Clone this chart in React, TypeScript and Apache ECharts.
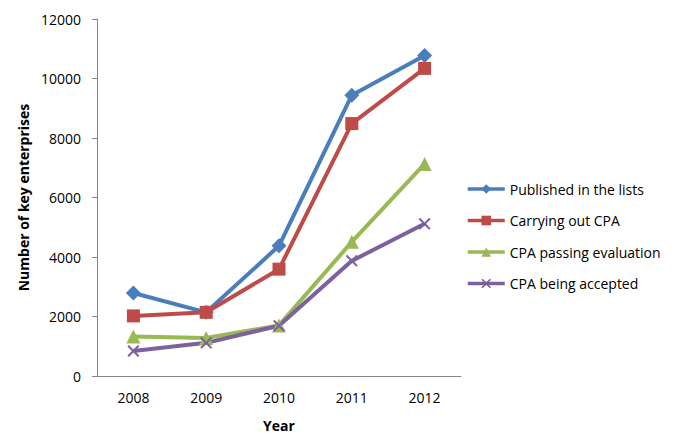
import React, { useEffect, useRef } from "react";
import * as echarts from "echarts";

const years = ["2008", "2009", "2010", "2011", "2012"];
const published = [2790, 2140, 4375, 9440, 10770];
const carrying = [2020, 2140, 3590, 8485, 10340];
const passing = [1330, 1280, 1700, 4510, 7130];
const accepted = [840, 1115, 1690, 3870, 5115];
const seriesNames = [
  "Published in the lists",
  "Carrying out CPA",
  "CPA passing evaluation",
  "CPA being accepted",
];
const yTicks = { min: 0, max: 12000, interval: 2000 };

const FONT = "'Open Sans', sans-serif";
const X_SYMBOL =
  "path://M0,1.2 L1.2,0 L5,3.8 L8.8,0 L10,1.2 L6.2,5 L10,8.8 L8.8,10 L5,6.2 L1.2,10 L0,8.8 L3.8,5 Z";

export default function App() {
  const ref = useRef<HTMLDivElement>(null);
  useEffect(() => {
    if (!ref.current) return;
    const chart = echarts.init(ref.current, null, { renderer: "svg" });
    const mk = (
      name: string,
      data: number[],
      color: string,
      symbol: string,
      size: number
    ) => ({
      name,
      type: "line",
      data,
      symbol,
      symbolSize: size,
      showAllSymbol: true,
      lineStyle: { color, width: 4 },
      itemStyle: { color },
      emphasis: { disabled: true },
    });
    chart.setOption({
      animation: false,
      backgroundColor: "#ffffff",
      grid: { left: 97, right: 219, top: 19, bottom: 55.5 },
      legend: {
        orient: "vertical",
        left: 461,
        top: 177,
        itemWidth: 37,
        itemHeight: 12,
        itemGap: 17.5,
        lineStyle: { width: 3.5 },
        textStyle: { fontFamily: FONT, fontSize: 14, color: "#000" },
        data: seriesNames,
      },
      xAxis: {
        type: "category",
        data: years,
        boundaryGap: true,
        name: "Year",
        nameLocation: "middle",
        nameGap: 42,
        nameTextStyle: { fontFamily: FONT, fontSize: 14, fontWeight: "bold", color: "#000" },
        axisLine: { lineStyle: { color: "#868686", width: 1 } },
        axisTick: { show: false },
        axisLabel: { fontFamily: FONT, fontSize: 14, color: "#000", margin: 14 },
      },
      yAxis: {
        type: "value",
        min: yTicks.min,
        max: yTicks.max,
        interval: yTicks.interval,
        name: "Number of key enterprises",
        nameLocation: "middle",
        nameGap: 64,
        nameTextStyle: { fontFamily: FONT, fontSize: 14, fontWeight: "bold", color: "#000" },
        axisLine: { show: true, lineStyle: { color: "#868686", width: 1 } },
        axisTick: { show: true, length: 5, lineStyle: { color: "#868686" } },
        splitLine: { show: false },
        axisLabel: {
          fontFamily: FONT,
          fontSize: 14,
          color: "#000",
          margin: 16,
          formatter: (v: number) => String(v),
        },
      },
      series: [
        mk(seriesNames[0], published, "#4A7EBB", "diamond", 15),
        mk(seriesNames[1], carrying, "#BE4B48", "rect", 13),
        mk(seriesNames[2], passing, "#98B954", "triangle", 14),
        mk(seriesNames[3], accepted, "#7D60A0", X_SYMBOL, 12),
      ],
    });
    return () => chart.dispose();
  }, []);
  return (
    <div
      ref={ref}
      style={{ width: 680, height: 437, position: "absolute", left: 0, top: 0 }}
    />
  );
}
